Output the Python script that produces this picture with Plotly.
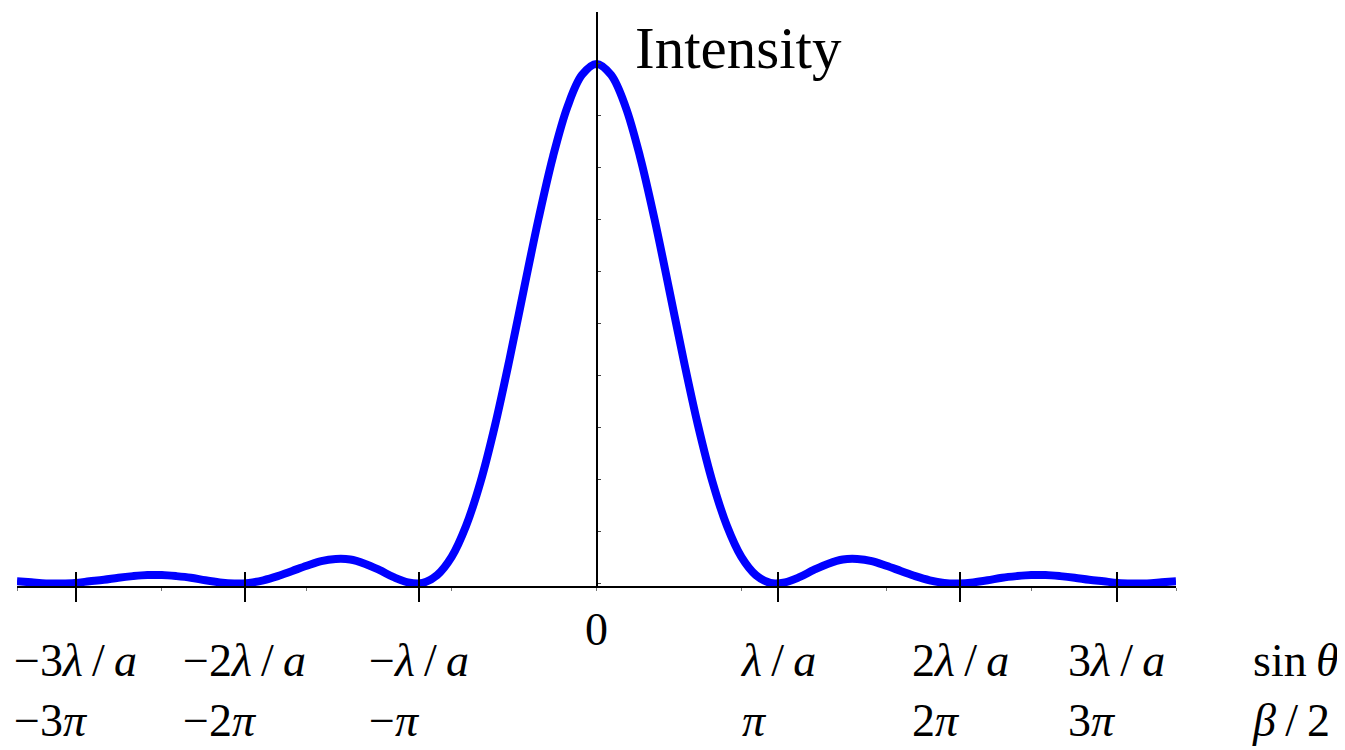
import plotly.graph_objects as go

# Curve (intensity vs. position, position in axis units where minor ticks are at integers)
x_vals = [round(-4.0 + 0.1 * i, 1) for i in range(81)]
intensity = [
    0.004, 0.002, 0.000, 0.000, 0.001, 0.004, 0.007, 0.011, 0.014, 0.016,
    0.016, 0.014, 0.011, 0.006, 0.002, 0.000, 0.001, 0.006, 0.014, 0.024,
    0.034, 0.043, 0.047, 0.046, 0.038, 0.026, 0.012, 0.002, 0.001, 0.016,
    0.051, 0.111, 0.196, 0.305, 0.432, 0.568, 0.702, 0.822, 0.918, 0.979,
    1.000,
    0.979, 0.918, 0.822, 0.702, 0.568, 0.432, 0.305, 0.196, 0.111, 0.051,
    0.016, 0.001, 0.002, 0.012, 0.026, 0.038, 0.046, 0.047, 0.043, 0.034,
    0.024, 0.014, 0.006, 0.001, 0.000, 0.002, 0.006, 0.011, 0.014, 0.016,
    0.016, 0.014, 0.011, 0.007, 0.004, 0.001, 0.000, 0.000, 0.002, 0.004,
]

# Tick positions and labels
tick_pos = [-3.596, -2.429, -1.224, 1.250, 2.512, 3.591]
TS = "\u2009"
tick_sin = ["−3<i>λ</i>" + TS + "/" + TS + "<i>a</i>",
            "−2<i>λ</i>" + TS + "/" + TS + "<i>a</i>",
            "−<i>λ</i>" + TS + "/" + TS + "<i>a</i>",
            "<i>λ</i>" + TS + "/" + TS + "<i>a</i>",
            "2<i>λ</i>" + TS + "/" + TS + "<i>a</i>",
            "3<i>λ</i>" + TS + "/" + TS + "<i>a</i>"]
tick_beta = ["−3<i>π</i>", "−2<i>π</i>", "−<i>π</i>",
             "<i>π</i>", "2<i>π</i>", "3<i>π</i>"]

FONT = "Liberation Serif"
LBL = 46

fig = go.Figure()
fig.add_trace(go.Scatter(x=x_vals, y=intensity, mode="lines",
                         line=dict(color="#0000FF", width=8, shape="spline", smoothing=1),
                         showlegend=False, hoverinfo="skip"))
fig.add_trace(go.Scatter(x=[None], y=[None], xaxis="x2", showlegend=False, hoverinfo="skip"))

annotations = []
for p, s, b in zip(tick_pos, tick_sin, tick_beta):
    annotations.append(dict(x=p, xref="x", y=0, yref="paper", yanchor="middle",
                            xanchor="center", align="left", yshift=-104,
                            text=s + "<br>" + b, showarrow=False,
                            font=dict(family=FONT, size=LBL, color="black")))
annotations.append(dict(x=0, xref="x", y=0, yref="paper", yanchor="middle",
                        xanchor="center", yshift=-43, text="0", showarrow=False,
                        font=dict(family=FONT, size=LBL, color="black")))
annotations.append(dict(x=1.0639, xref="paper", y=0, yref="paper", yanchor="middle",
                        xanchor="left", align="left", yshift=-104,
                        text="sin" + TS + "<i>θ</i><br><i>β</i>" + TS + "/" + TS + "2",
                        showarrow=False,
                        font=dict(family=FONT, size=LBL, color="black")))
annotations.append(dict(x=0, xref="x", y=1, yref="paper", yanchor="middle",
                        xanchor="left", xshift=36, yshift=-36, text="Intensity",
                        showarrow=False, font=dict(family=FONT, size=59, color="black")))

fig.update_layout(
    width=1345, height=750,
    margin=dict(l=9, r=177, t=4, b=172),
    paper_bgcolor="white", plot_bgcolor="white",
    xaxis=dict(range=[-4, 4], showgrid=False, zeroline=False,
               showline=True, linecolor="black", linewidth=2,
               tickmode="array", tickvals=tick_pos, ticktext=[""] * len(tick_pos),
               ticks="outside", ticklen=14, tickwidth=2, tickcolor="black",
               showticklabels=False,
               minor=dict(tickmode="linear", tick0=0, dtick=1, ticks="outside",
                          ticklen=3, tickwidth=1, tickcolor="#777")),
    xaxis2=dict(range=[-4, 4], overlaying="x", anchor="y", side="bottom",
                showgrid=False, zeroline=False, showline=False,
                tickmode="array", tickvals=tick_pos,
                ticks="inside", ticklen=14, tickwidth=2, tickcolor="black",
                showticklabels=False),
    yaxis=dict(range=[-0.005, 1.1], anchor="free", position=0.5,
               showgrid=False, zeroline=False, showline=True,
               linecolor="black", linewidth=2,
               tickmode="linear", tick0=0, dtick=0.1,
               ticks="inside", ticklen=3, tickwidth=1, tickcolor="#444",
               showticklabels=False),
    annotations=annotations,
)

fig.write_html("out.html")
